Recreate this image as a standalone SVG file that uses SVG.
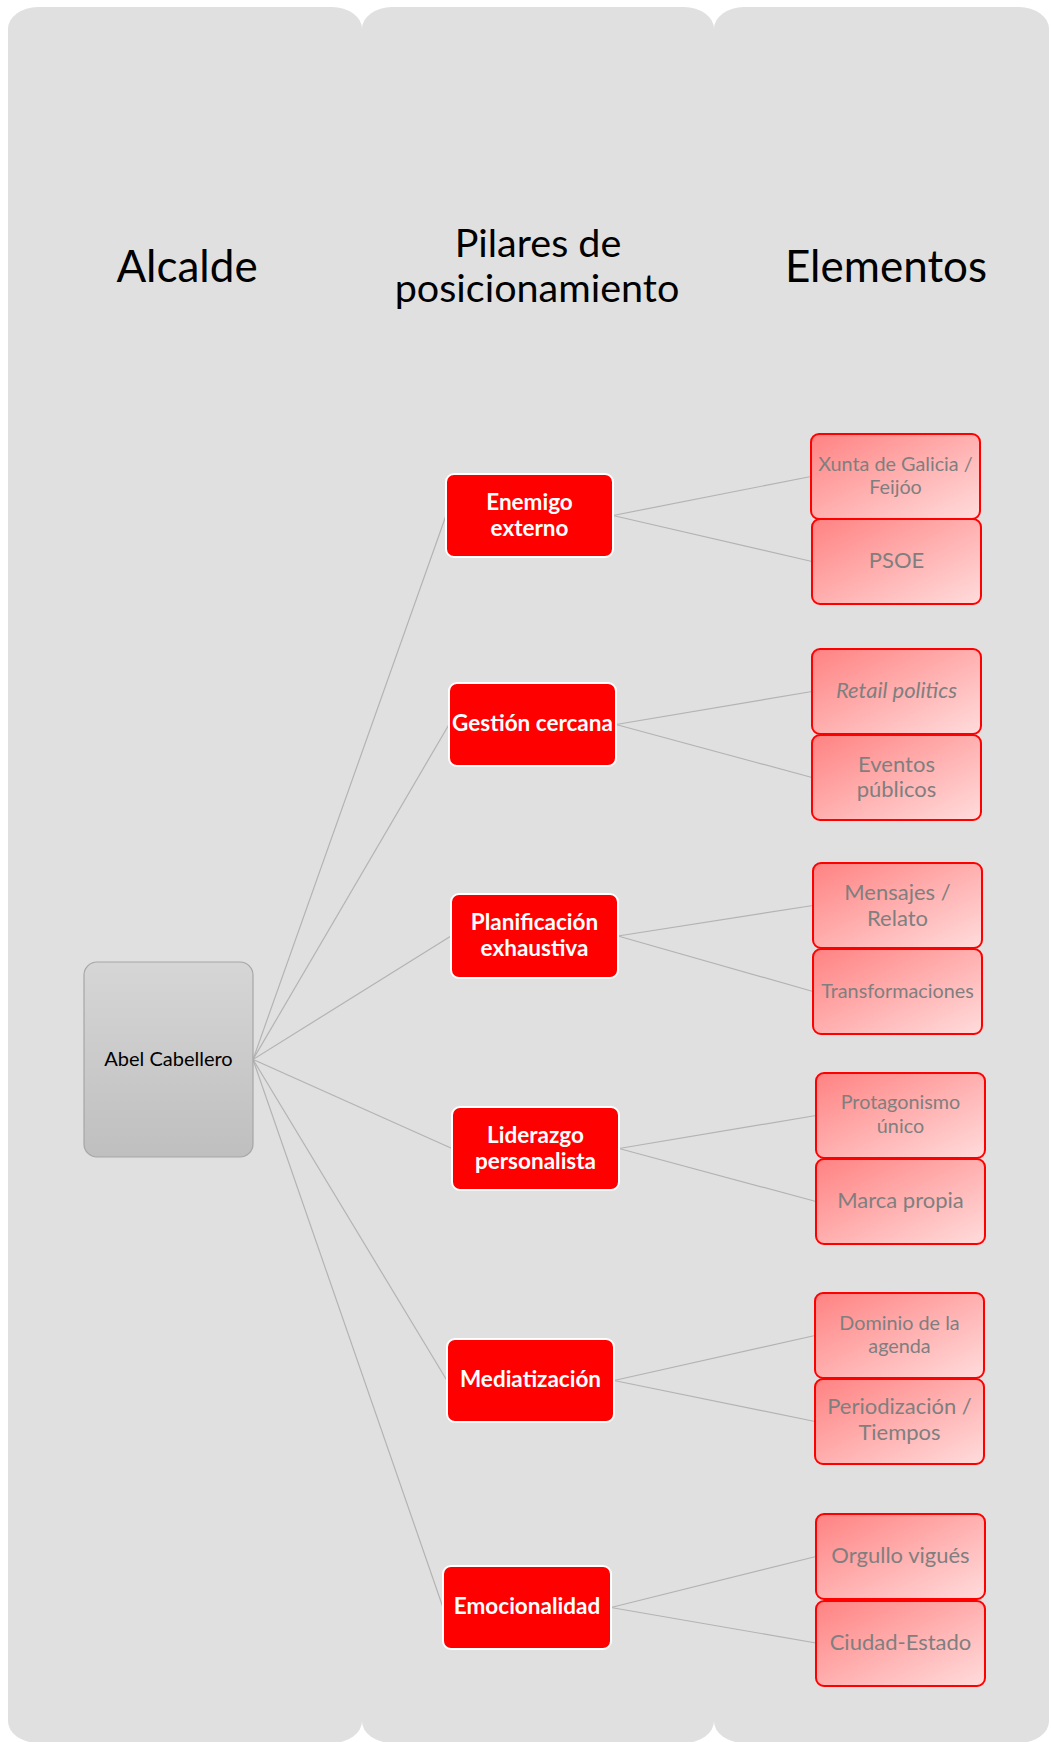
<svg xmlns="http://www.w3.org/2000/svg" width="1051" height="1742" viewBox="0 0 1051 1742">
<defs>
<linearGradient id="gGray" x1="0" y1="0" x2="0" y2="1">
<stop offset="0" stop-color="#d6d6d6"/>
<stop offset="1" stop-color="#bfbfbf"/>
</linearGradient>
<linearGradient id="gPink" x1="0" y1="0" x2="1" y2="1">
<stop offset="0" stop-color="#ff8282"/>
<stop offset="1" stop-color="#ffdcdc"/>
</linearGradient>
<style>
.panel{fill:#e0e0e0;stroke:none}
.hdr{font-family:Lato,"Open Sans",sans-serif;fill:#000;text-anchor:middle}
.root{fill:url(#gGray);stroke:#a6a6a6;stroke-width:1.2}
.rootT{font-family:Lato,"Open Sans",sans-serif;font-size:20px;fill:#000;text-anchor:middle}
.pil{fill:#ff0000;stroke:#ffffff;stroke-width:2}
.pilT{font-family:Lato,"Open Sans",sans-serif;font-weight:bold;font-size:22.5px;fill:#fff;text-anchor:middle}
.el{fill:url(#gPink);stroke:#ff0000;stroke-width:2}
.elT{font-family:Lato,"Open Sans",sans-serif;font-size:22px;fill:#7f7f7f;text-anchor:middle}
.elS{font-size:19.8px}
.con{stroke:#b3b3b3;stroke-width:1.2;fill:none}
</style>
</defs>
<rect width="1051" height="1742" fill="#ffffff"/>
<g id="panels">
<path class="panel" d="M8,29 A30,22 0 0 1 38,7 L332,7 A30,22 0 0 1 362,29 L362,1721 A30,22 0 0 1 332,1743 L38,1743 A30,22 0 0 1 8,1721 Z"/>
<path class="panel" d="M362,29 A30,22 0 0 1 392,7 L684,7 A30,22 0 0 1 714,29 L714,1721 A30,22 0 0 1 684,1743 L392,1743 A30,22 0 0 1 362,1721 Z"/>
<path class="panel" d="M714,29 A30,22 0 0 1 744,7 L1019,7 A30,22 0 0 1 1049,29 L1049,1721 A30,22 0 0 1 1019,1743 L744,1743 A30,22 0 0 1 714,1721 Z"/>
<text class="hdr" x="187" y="282" font-size="44">Alcalde</text>
<text class="hdr" x="538" y="257" font-size="39.5">Pilares de</text>
<text class="hdr" x="537" y="302" font-size="39.5">posicionamiento</text>
<text class="hdr" x="886" y="282" font-size="44">Elementos</text>
</g>
<g id="connectors">
<line class="con" x1="253" y1="1059.5" x2="446" y2="515.5"/>
<line class="con" x1="253" y1="1059.5" x2="449" y2="724.5"/>
<line class="con" x1="253" y1="1059.5" x2="451" y2="936"/>
<line class="con" x1="253" y1="1059.5" x2="452" y2="1148.5"/>
<line class="con" x1="253" y1="1059.5" x2="447" y2="1380.5"/>
<line class="con" x1="253" y1="1059.5" x2="443" y2="1607.5"/>
<line class="con" x1="613" y1="515.5" x2="811" y2="476.5"/>
<line class="con" x1="613" y1="515.5" x2="812" y2="561.5"/>
<line class="con" x1="616" y1="724.5" x2="812" y2="691.5"/>
<line class="con" x1="616" y1="724.5" x2="812" y2="777.5"/>
<line class="con" x1="618" y1="936" x2="813" y2="905.5"/>
<line class="con" x1="618" y1="936" x2="813" y2="991.5"/>
<line class="con" x1="619" y1="1148.5" x2="816" y2="1115.5"/>
<line class="con" x1="619" y1="1148.5" x2="816" y2="1201.5"/>
<line class="con" x1="614" y1="1380.5" x2="815" y2="1335.5"/>
<line class="con" x1="614" y1="1380.5" x2="815" y2="1421.5"/>
<line class="con" x1="611" y1="1607.5" x2="816" y2="1556.5"/>
<line class="con" x1="611" y1="1607.5" x2="816" y2="1643"/>
</g>
<g id="root">
<rect class="root" x="84" y="962" width="169" height="195" rx="13"/>
<text class="rootT" x="168.5" y="1066">Abel Cabellero</text>
</g>
<g id="p1">
<rect class="pil" x="446" y="474" width="167" height="83" rx="8"/>
<text class="pilT" x="529.5" y="510">Enemigo</text>
<text class="pilT" x="529.5" y="536">externo</text>
</g>
<g id="p2">
<rect class="pil" x="449" y="683" width="167" height="83" rx="8"/>
<text class="pilT" x="532.5" y="731">Gestión cercana</text>
</g>
<g id="p3">
<rect class="pil" x="451" y="894" width="167" height="84" rx="8"/>
<text class="pilT" x="534.5" y="930">Planificación</text>
<text class="pilT" x="534.5" y="956">exhaustiva</text>
</g>
<g id="p4">
<rect class="pil" x="452" y="1107" width="167" height="83" rx="8"/>
<text class="pilT" x="535.5" y="1143">Liderazgo</text>
<text class="pilT" x="535.5" y="1169">personalista</text>
</g>
<g id="p5">
<rect class="pil" x="447" y="1339" width="167" height="83" rx="8"/>
<text class="pilT" x="530.5" y="1387">Mediatización</text>
</g>
<g id="p6">
<rect class="pil" x="443" y="1566" width="168" height="83" rx="8"/>
<text class="pilT" x="527" y="1614">Emocionalidad</text>
</g>
<g id="e1a">
<rect class="el" x="811" y="434" width="169" height="85" rx="8"/>
<text class="elT elS" x="895.5" y="471">Xunta de Galicia /</text>
<text class="elT elS" x="895.5" y="494">Feijóo</text>
</g>
<g id="e1b">
<rect class="el" x="812" y="519" width="169" height="85" rx="8"/>
<text class="elT" x="896.5" y="568">PSOE</text>
</g>
<g id="e2a">
<rect class="el" x="812" y="649" width="169" height="85" rx="8"/>
<text class="elT" x="896.5" y="698" font-style="italic">Retail politics</text>
</g>
<g id="e2b">
<rect class="el" x="812" y="735" width="169" height="85" rx="8"/>
<text class="elT" x="896.5" y="772">Eventos</text>
<text class="elT" x="896.5" y="797">públicos</text>
</g>
<g id="e3a">
<rect class="el" x="813" y="863" width="169" height="85" rx="8"/>
<text class="elT" x="897.5" y="900">Mensajes /</text>
<text class="elT" x="897.5" y="926">Relato</text>
</g>
<g id="e3b">
<rect class="el" x="813" y="949" width="169" height="85" rx="8"/>
<text class="elT elS" x="897.5" y="998">Transformaciones</text>
</g>
<g id="e4a">
<rect class="el" x="816" y="1073" width="169" height="85" rx="8"/>
<text class="elT elS" x="900.5" y="1109">Protagonismo</text>
<text class="elT elS" x="900.5" y="1133">único</text>
</g>
<g id="e4b">
<rect class="el" x="816" y="1159" width="169" height="85" rx="8"/>
<text class="elT" x="900.5" y="1208">Marca propia</text>
</g>
<g id="e5a">
<rect class="el" x="815" y="1293" width="169" height="85" rx="8"/>
<text class="elT elS" x="899.5" y="1330">Dominio de la</text>
<text class="elT elS" x="899.5" y="1353">agenda</text>
</g>
<g id="e5b">
<rect class="el" x="815" y="1379" width="169" height="85" rx="8"/>
<text class="elT" x="899.5" y="1414">Periodización /</text>
<text class="elT" x="899.5" y="1440">Tiempos</text>
</g>
<g id="e6a">
<rect class="el" x="816" y="1514" width="169" height="85" rx="8"/>
<text class="elT" x="900.5" y="1563">Orgullo vigués</text>
</g>
<g id="e6b">
<rect class="el" x="816" y="1601" width="169" height="85" rx="8"/>
<text class="elT" x="900.5" y="1650">Ciudad-Estado</text>
</g>
</svg>
